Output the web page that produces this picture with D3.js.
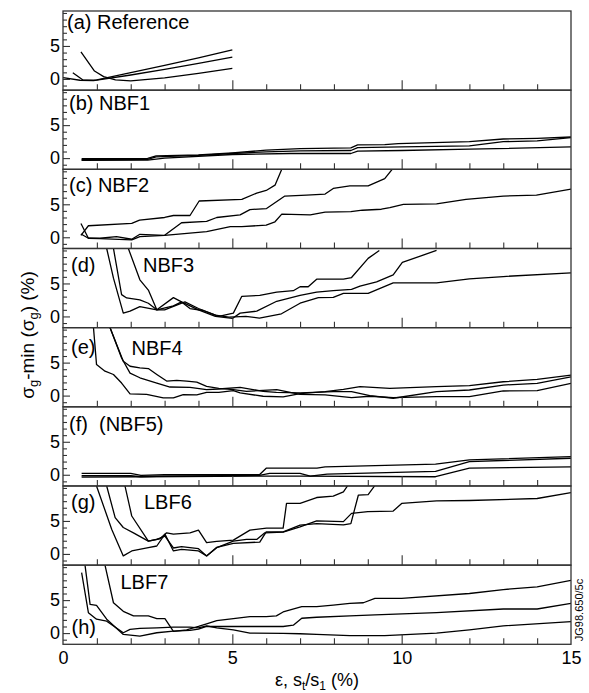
<!DOCTYPE html>
<html><head><meta charset="utf-8">
<script src="https://cdn.jsdelivr.net/npm/d3@7"></script>
<style>
body{margin:0;background:#fff}
svg{display:block}
text{font-family:"Liberation Sans",Arial,Helvetica,sans-serif;fill:#000}
</style>
</head><body>
<svg id="chart" width="589" height="693"></svg>
<script>
// ---------- data ----------
const xTickLabels = [0, 5, 10, 15];
const yTickLabels = [0, 5];
const panelTags  = ["(a)", "(b)", "(c)", "(d)", "(e)", "(f)", "(g)", "(h)"];
const panelNames = ["Reference", "NBF1", "NBF2", "NBF3", "NBF4", "(NBF5)", "LBF6", "LBF7"];

// (a) Reference
const refA1 = [[0.53,4.1],[0.93,1.2],[1.2,0.35],[1.55,-0.15],[2.0,-0.3],[3.0,0.15],[4.0,0.85],[5.0,1.6]];
const refA2 = [[0.29,0.95],[0.6,-0.2],[1.0,-0.15],[2.0,0.95],[3.0,2.05],[4.0,3.2],[5.0,4.4]];
const refA3 = [[0.0,0.2],[0.5,-0.2],[0.9,-0.25],[2.0,0.6],[3.0,1.45],[4.0,2.35],[5.0,3.3]];
// (b) NBF1
const nbf1A = [[0.55,-0.1],[2.5,-0.05],[2.75,0.35],[4,0.5],[5,0.8],[6,1.2],[7,1.45],[8.5,1.55],[8.7,2.0],[9.5,2.05],[9.9,2.2],[12,2.5],[13,2.9],[14,3.0],[15,3.2]];
const nbf1B = [[0.55,-0.25],[2.5,-0.2],[2.75,0.2],[4,0.4],[5,0.7],[6,0.95],[7,1.1],[8.5,1.15],[8.7,1.6],[10,1.7],[12,1.85],[13,2.5],[14,2.6],[15,3.1]];
const nbf1C = [[0.55,-0.35],[2.5,-0.3],[3,0.0],[5,0.55],[6.7,0.7],[8.5,0.7],[8.7,1.05],[10,1.15],[12,1.35],[15,1.7]];
// (c) NBF2
const nbf2A = [[0.53,0.3],[0.75,1.75],[2.03,2.1],[2.26,2.6],[3.0,3.0],[3.26,3.3],[3.75,3.3],[4.02,5.5],[5.28,5.75],[5.72,6.7],[6.0,7.1],[6.26,7.9],[6.46,10.3]];
const nbf2B = [[0.53,2.1],[0.75,-0.15],[1.09,-0.15],[1.58,0.1],[2.03,-0.3],[2.27,0.45],[3.0,0.3],[3.5,2.2],[4.24,2.4],[4.54,3.0],[5.23,3.4],[5.52,4.2],[6.01,4.35],[6.55,6.25],[7.19,6.4],[7.74,6.55],[7.98,7.4],[8.47,7.8],[9.01,7.8],[9.5,8.9],[9.72,10.3]];
const nbf2C = [[0.53,0.5],[0.75,-0.15],[1.09,-0.2],[2.03,-0.4],[2.27,0.1],[3.0,0.3],[4.24,0.85],[4.94,1.6],[5.28,1.6],[6.0,1.85],[6.26,2.35],[6.46,3.5],[7.3,3.4],[7.74,3.8],[8.5,3.9],[8.84,4.1],[9.4,4.25],[9.65,4.5],[10.05,5.0],[11.03,5.05],[11.9,5.75],[13.0,6.25],[13.98,6.4],[15,7.3]];
// (d) NBF3
const nbf3A = [[1.29,10.3],[1.49,5.8],[1.78,0.5],[1.98,0.8],[2.27,1.5],[2.77,1.0],[3.26,1.6],[3.5,2.2],[3.75,1.2],[4.14,0.9],[4.6,0.0],[5.03,0.5],[5.28,3.05],[5.81,3.2],[6.31,3.7],[6.8,3.9],[7.0,4.5],[7.24,4.5],[7.49,5.65],[8.28,5.65],[8.52,5.9],[9.01,8.8],[9.34,10.0]];
const nbf3B = [[1.49,10.3],[1.73,3.3],[1.88,2.8],[2.27,2.5],[2.52,2.0],[2.77,1.0],[3.26,2.85],[3.5,2.2],[4.0,1.0],[4.5,0.0],[5.0,-0.3],[5.23,0.5],[5.72,0.8],[6.31,2.3],[7.0,3.2],[7.49,3.7],[7.98,3.9],[8.52,4.1],[8.77,4.6],[9.26,5.25],[9.75,6.3],[10.02,8.2],[11.03,10.0]];
const nbf3C = [[1.93,10.3],[2.27,5.55],[2.52,4.0],[2.77,1.0],[3.0,1.0],[3.3,1.6],[3.6,2.2],[4.0,1.2],[4.5,0.2],[4.9,-0.1],[5.4,0.0],[5.8,-0.25],[6.45,0.4],[7.0,2.0],[7.54,2.85],[7.98,2.9],[8.28,3.5],[9.01,3.5],[9.75,5.1],[11.03,5.1],[12.0,5.7],[13.0,6.05],[15,6.6]];
// (e) NBF4
const nbf4A = [[0.9,10.3],[0.99,4.7],[1.24,3.7],[1.49,3.2],[1.73,1.9],[1.98,0.25],[2.47,0.2],[2.96,-0.35],[3.26,-0.35],[3.55,0.15],[3.95,0.1],[4.24,0.5],[4.6,0.5],[5.03,0.75],[5.23,0.4],[5.91,-0.1],[6.5,-0.2],[7.0,0.3],[7.74,0.6],[8.28,0.95],[8.77,1.35],[9.65,1.1],[11.03,1.35],[12,1.5],[13,2.1],[14,2.45],[15,3.1]];
const nbf4B = [[1.39,10.3],[1.73,5.7],[1.98,3.4],[2.27,2.7],[2.77,1.9],[3.16,1.3],[3.75,1.25],[4.24,0.9],[4.6,1.0],[5.23,1.25],[5.91,0.65],[6.3,0.5],[7.0,0.4],[7.98,0.6],[8.52,0.6],[9.06,0.0],[9.75,-0.4],[11.03,0.6],[12,0.85],[13,1.6],[14,1.85],[15,2.85]];
const nbf4C = [[1.39,10.3],[1.78,5.2],[1.98,4.45],[2.27,4.2],[2.52,4.1],[2.77,3.2],[3.06,2.2],[3.36,2.3],[3.65,2.2],[3.95,2.05],[4.24,1.4],[4.6,1.1],[5.03,0.9],[5.42,0.65],[6.31,0.9],[7.0,0.2],[7.74,0.1],[8.52,-0.3],[9.06,-0.1],[9.75,-0.3],[11.03,-0.15],[12,-0.15],[13,0.7],[14,0.75],[15,1.85]];
// (f) NBF5
const nbf5A = [[0.55,0.2],[2.0,0.2],[2.3,-0.1],[3,0.0],[5.8,0.0],[6.0,1.0],[7.5,1.0],[7.74,1.2],[11.0,1.6],[12,2.25],[15,2.75]];
const nbf5B = [[0.55,-0.15],[2,-0.15],[2.3,-0.3],[3,-0.2],[5.8,-0.1],[6.1,0.2],[7.0,0.2],[7.3,-0.2],[7.8,0.1],[11,0.5],[12,2.0],[15,2.5]];
const nbf5C = [[0.55,-0.35],[2.3,-0.3],[6.0,-0.2],[7.0,-0.2],[11,-0.3],[12,1.0],[15,1.2]];
// (g) LBF6
const lbf6A = [[0.99,10.3],[1.44,3.7],[1.78,-0.3],[2.03,0.45],[2.52,0.95],[2.77,1.2],[3.01,3.0],[3.26,0.45],[3.5,0.7],[4.0,0.45],[4.24,-0.3],[4.54,0.95],[5.03,1.95],[5.42,2.2],[5.72,2.2],[5.96,3.2],[6.5,3.3],[7.0,4.1],[7.49,5.0],[8.28,4.9],[8.52,6.15],[9.0,6.4],[9.75,6.5],[10.0,7.65],[11.03,8.05],[12,8.1],[14,8.4],[15,9.3]];
const lbf6B = [[1.29,10.3],[1.54,5.5],[1.78,4.0],[2.08,3.2],[2.52,1.95],[2.77,2.2],[3.01,2.7],[3.26,0.9],[3.5,1.1],[4.0,0.8],[4.24,-0.3],[4.54,1.0],[5.03,1.6],[5.81,1.8],[6.0,3.35],[6.5,3.35],[7.0,4.35],[7.49,4.6],[8.28,4.4],[8.5,4.6],[8.72,8.9],[9.01,9.0],[9.2,10.3]];
const lbf6C = [[1.83,10.3],[2.03,5.75],[2.52,1.95],[2.86,2.3],[3.06,3.2],[3.26,3.0],[3.75,3.2],[4.0,3.6],[4.24,1.7],[4.54,1.9],[5.03,2.1],[5.52,3.6],[6.01,3.9],[6.5,3.9],[6.6,7.65],[7.0,7.65],[7.49,8.55],[7.98,8.75],[8.28,9.4],[8.4,10.3]];
// (h) LBF7
const lbf7A = [[0.55,9.15],[0.75,3.1],[0.99,2.1],[1.29,1.8],[1.78,0.05],[1.98,0.55],[2.27,0.7],[2.77,0.8],[3.26,0.9],[3.75,0.9],[4.0,0.8],[4.24,1.1],[4.54,0.8],[5.03,0.5],[5.52,0.0],[6.5,-0.05],[7.0,-0.1],[7.49,-0.2],[8.47,-0.4],[9.5,-0.4],[11.03,0.0],[12,0.5],[13,1.1],[15,1.75]];
const lbf7B = [[0.65,10.3],[0.8,4.35],[0.99,4.2],[1.29,2.1],[1.78,-0.2],[2.27,-0.45],[2.77,0.05],[3.26,0.3],[3.75,0.4],[4.0,0.6],[4.24,1.0],[5.03,1.0],[6.5,1.0],[6.8,1.2],[7.05,2.25],[7.49,2.4],[8.47,2.6],[9.21,2.75],[11.03,3.1],[13,3.65],[14,3.65],[15,4.5]];
const lbf7C = [[1.24,10.3],[1.49,4.6],[1.78,3.3],[2.08,2.6],[2.52,2.6],[2.77,2.2],[3.01,2.2],[3.26,0.25],[3.65,0.5],[4.0,1.0],[4.24,1.4],[4.54,1.9],[5.03,2.2],[5.52,2.5],[6.0,2.5],[6.3,2.6],[6.5,3.2],[7.05,4.0],[7.49,4.0],[7.98,4.25],[8.47,4.5],[8.87,4.6],[9.21,5.25],[10.0,5.25],[12,6.0],[13,6.6],[14,7.0],[15,8.0]];

const panelSeries = [
  [refA1, refA2, refA3],
  [nbf1A, nbf1B, nbf1C],
  [nbf2A, nbf2B, nbf2C],
  [nbf3A, nbf3B, nbf3C],
  [nbf4A, nbf4B, nbf4C],
  [nbf5A, nbf5B, nbf5C],
  [lbf6A, lbf6B, lbf6C],
  [lbf7A, lbf7B, lbf7C]
];

// ---------- layout ----------
const L = 63, R = 571, T = 11, B = 644.3;
const nP = 8, pH = (B - T) / nP;
const frameColor = "#333";
// label layout: [tagX, tagY, nameX, nameY] (name joined with tag when nameX null)
const labelLayout = [
  [67, 29, null, null],
  [69, 110, null, null],
  [69, 192, null, null],
  [71, 272, 143, 272],
  [71, 354, 131.5, 355],
  [69, 431, 99, 431],
  [71, 509, 144, 509],
  [71.5, 634, 120.5, 589]
];

const svg = d3.select("#chart");
const x = d3.scaleLinear().domain([0, 15]).range([L, R]);
const line = d3.line().x(d => x(d[0]));

panelSeries.forEach((series, i) => {
  const top = T + i * pH, bot = top + pH;
  const y = d3.scaleLinear().domain([-1.7, 10.3]).range([bot, top]);
  const g = svg.append("g");

  g.append("clipPath").attr("id", "clip" + i)
    .append("rect").attr("x", L).attr("y", top).attr("width", R - L).attr("height", pH);

  // data lines
  const lg = g.append("g").attr("clip-path", `url(#clip${i})`);
  series.forEach(s => {
    lg.append("path").datum(s)
      .attr("d", line.y(d => y(d[1])))
      .attr("fill", "none").attr("stroke", "#000")
      .attr("stroke-width", 1.3).attr("stroke-linejoin", "round");
  });

  // x ticks (inside, pointing up)
  const axMinor = d3.axisBottom(x).tickValues(d3.range(1, 15).filter(v => v !== 5 && v !== 10)).tickSize(-6).tickFormat("");
  const axMajor = d3.axisBottom(x).tickValues([5, 10]).tickSize(-10).tickFormat("");
  [axMinor, axMajor].forEach(ax => {
    const a = g.append("g").attr("transform", `translate(0,${bot})`).call(ax);
    a.select(".domain").remove();
    a.selectAll("line").attr("stroke", frameColor).attr("stroke-width", 1.1);
  });

  // y ticks (inside)
  const ayMinor = d3.axisLeft(y).tickValues(d3.range(-1, 11).filter(v => v !== 0 && v !== 5)).tickSize(-4).tickFormat("");
  const ayMajor = d3.axisLeft(y).tickValues([0, 5]).tickSize(-7).tickFormat("");
  [ayMinor, ayMajor].forEach(ax => {
    const a = g.append("g").attr("transform", `translate(${L},0)`).call(ax);
    a.select(".domain").remove();
    a.selectAll("line").attr("stroke", frameColor).attr("stroke-width", 1.1);
  });
  const ayLab = d3.axisLeft(y).tickValues(yTickLabels).tickSize(0).tickPadding(3).tickFormat(d3.format("d"));
  const al = g.append("g").attr("transform", `translate(${L},0)`).call(ayLab);
  al.select(".domain").remove();
  al.selectAll("text").attr("font-size", 18).attr("font-family", null).attr("fill", "#000");

  // frame
  g.append("rect").attr("x", L).attr("y", top).attr("width", R - L).attr("height", pH)
    .attr("fill", "none").attr("stroke", frameColor).attr("stroke-width", 1.3);

  // labels
  const lay = labelLayout[i];
  if (lay[2] === null) {
    g.append("text").attr("x", lay[0]).attr("y", lay[1]).attr("font-size", 20)
      .text(panelTags[i] + " " + panelNames[i]);
  } else {
    g.append("text").attr("x", lay[0]).attr("y", lay[1]).attr("font-size", 20).text(panelTags[i]);
    g.append("text").attr("x", lay[2]).attr("y", lay[3]).attr("font-size", 20).text(panelNames[i]);
  }
});

// bottom x tick labels
const axLab = d3.axisBottom(x).tickValues(xTickLabels).tickSize(0).tickPadding(7).tickFormat(d3.format("d"));
const xl = svg.append("g").attr("transform", `translate(0,${B})`).call(axLab);
xl.select(".domain").remove();
xl.selectAll("text").attr("font-size", 18).attr("font-family", null).attr("fill", "#000");

// x axis title
const xt = svg.append("text").attr("x", (L + R) / 2).attr("y", 686)
  .attr("text-anchor", "middle").attr("font-size", 18);
xt.append("tspan").text("ε, s");
xt.append("tspan").attr("font-size", 12).attr("dy", 4).text("t");
xt.append("tspan").attr("dy", -4).text("/s");
xt.append("tspan").attr("font-size", 12).attr("dy", 4).text("1");
xt.append("tspan").attr("dy", -4).text(" (%)");

// y axis title
const yt = svg.append("text").attr("transform", "translate(34,335) rotate(-90)")
  .attr("text-anchor", "middle").attr("font-size", 19);
yt.append("tspan").text("σ");
yt.append("tspan").attr("font-size", 13).attr("dy", 4).text("g");
yt.append("tspan").attr("dy", -4).text("-min (σ");
yt.append("tspan").attr("font-size", 13).attr("dy", 4).text("g");
yt.append("tspan").attr("dy", -4).text(") (%)");

// side note
svg.append("text").attr("transform", "translate(583,610) rotate(-90)")
  .attr("text-anchor", "middle").attr("font-size", 11).text("JG98.650/5c");
</script>
</body></html>
